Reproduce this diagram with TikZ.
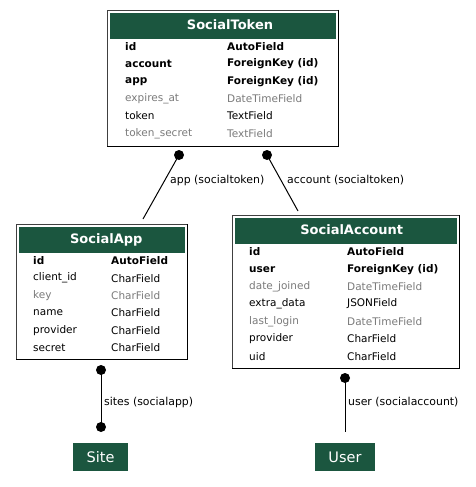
\documentclass[tikz,border=0pt]{standalone}
\usepackage{fontspec}
\setmainfont{DejaVu Sans}
\begin{document}
\begin{tikzpicture}[x=1pt,y=-1pt,
  tbl/.style={draw=black!75,line width=1pt,fill=white,inner sep=0pt,anchor=north west},
  hdr/.style={fill=hdrgreen,inner sep=0pt,anchor=north west},
  hdrtext/.style={text=white,font=\fontsize{13}{15}\selectfont\bfseries,inner sep=0pt},
  fld/.style={anchor=west,inner sep=0pt,yshift=-0.8pt,font=\fontsize{10.5}{12}\selectfont},
  fb/.style={fld,font=\fontsize{10.5}{12}\selectfont\bfseries},
  fg/.style={fld,text=fgray},
  elabel/.style={anchor=west,inner sep=0pt,font=\fontsize{10.9}{12}\selectfont},
  ext/.style={fill=hdrgreen,text=white,inner sep=0pt,anchor=north west,font=\fontsize{14}{16}\selectfont},
  dotc/.style={circle,fill=black,inner sep=0pt,minimum size=10pt},
  conn/.style={line width=1pt,black}
]
\definecolor{hdrgreen}{HTML}{1B563F}
\definecolor{fgray}{HTML}{7B7B7B}
\useasboundingbox (0,0) rectangle (475,487);
\fill[white] (0,0) rectangle (475,487);

% ---- SocialToken
\node[tbl,minimum width=231pt,minimum height=136pt] (st) at (107,10) {};
\draw[black,line width=1pt] (338,10) -- (338,146) -- (107,146);
\node[hdr,minimum width=226pt,minimum height=26pt] (sth) at (109.5,12.5) {};
\node[hdrtext] (stt) at (230,24.5) {SocialToken};
\node[fb] (st1a) at (125,46) {id};        \node[fb] (st1b) at (227,46) {AutoField};
\node[fb] (st2a) at (125,63.3) {account}; \node[fb] (st2b) at (227,63.3) {ForeignKey (id)};
\node[fb] (st3a) at (125,80.6) {app};     \node[fb] (st3b) at (227,80.6) {ForeignKey (id)};
\node[fg] (st4a) at (125,97.9) {expires\_at}; \node[fg] (st4b) at (227,97.9) {DateTimeField};
\node[fld] (st5a) at (125,115.2) {token};  \node[fld] (st5b) at (227,115.2) {TextField};
\node[fg] (st6a) at (125,132.5) {token\_secret}; \node[fg] (st6b) at (227,132.5) {TextField};

% ---- SocialApp
\node[tbl,minimum width=171pt,minimum height=135pt] (sa) at (16,224) {};
\draw[black,line width=1pt] (187,224) -- (187,359) -- (16,359);
\node[hdr,minimum width=166pt,minimum height=26pt] (sah) at (18.5,226.5) {};
\node[hdrtext] (sat) at (106.3,239.5) {SocialApp};
\node[fb] (sa1a) at (33,260) {id};          \node[fb] (sa1b) at (111,260) {AutoField};
\node[fld] (sa2a) at (33,277.4) {client\_id}; \node[fld] (sa2b) at (111,277.4) {CharField};
\node[fg] (sa3a) at (33,294.8) {key};        \node[fg] (sa3b) at (111,294.8) {CharField};
\node[fld] (sa4a) at (33,312.2) {name};      \node[fld] (sa4b) at (111,312.2) {CharField};
\node[fld] (sa5a) at (33,329.6) {provider};  \node[fld] (sa5b) at (111,329.6) {CharField};
\node[fld] (sa6a) at (33,347) {secret};      \node[fld] (sa6b) at (111,347) {CharField};

% ---- SocialAccount
\node[tbl,minimum width=227pt,minimum height=153pt] (sc) at (232,215) {};
\draw[black,line width=1pt] (459,215) -- (459,368) -- (232,368);
\node[hdr,minimum width=222pt,minimum height=26pt] (sch) at (234.5,217.5) {};
\node[hdrtext] (sct) at (351.7,229.5) {SocialAccount};
\node[fb] (sc1a) at (249,251) {id};            \node[fb] (sc1b) at (347,251) {AutoField};
\node[fb] (sc2a) at (249,268.4) {user};        \node[fb] (sc2b) at (347,268.4) {ForeignKey (id)};
\node[fg] (sc3a) at (249,285.8) {date\_joined}; \node[fg] (sc3b) at (347,285.8) {DateTimeField};
\node[fld] (sc4a) at (249,303.2) {extra\_data}; \node[fld] (sc4b) at (347,303.2) {JSONField};
\node[fg] (sc5a) at (249,320.6) {last\_login};  \node[fg] (sc5b) at (347,320.6) {DateTimeField};
\node[fld] (sc6a) at (249,338) {provider};     \node[fld] (sc6b) at (347,338) {CharField};
\node[fld] (sc7a) at (249,355.4) {uid};        \node[fld] (sc7b) at (347,355.4) {CharField};

% ---- external models
\node[ext,minimum width=55pt,minimum height=28pt] (site) at (73,443) {};
\node[text=white,inner sep=0pt,font=\fontsize{14.5}{16}\selectfont] (sitet) at (100.5,457) {Site};
\node[ext,minimum width=60pt,minimum height=28pt] (user) at (315,443) {};
\node[text=white,inner sep=0pt,font=\fontsize{14.5}{16}\selectfont] (usert) at (345,457) {User};

% ---- connectors
\node[dotc] (d1) at (179,155) {};
\coordinate (e1) at (143,219);
\draw[conn] (d1.center) -- (e1);
\node[elabel] (l1) at (170,180) {app (socialtoken)};

\node[dotc] (d2) at (267,155) {};
\coordinate (e2) at (298,211);
\draw[conn] (d2.center) -- (e2);
\node[elabel] (l2) at (287,180) {account (socialtoken)};

\node[dotc] (d3) at (101,370) {};
\node[dotc] (d4) at (101,427) {};
\draw[conn] (d3.center) -- (d4.center);
\node[elabel] (l3) at (104,402) {sites (socialapp)};

\node[dotc] (d5) at (345,378) {};
\coordinate (e5) at (345,432);
\draw[conn] (d5.center) -- (e5);
\node[elabel] (l5) at (348,402) {user (socialaccount)};
\end{tikzpicture}
\end{document}
